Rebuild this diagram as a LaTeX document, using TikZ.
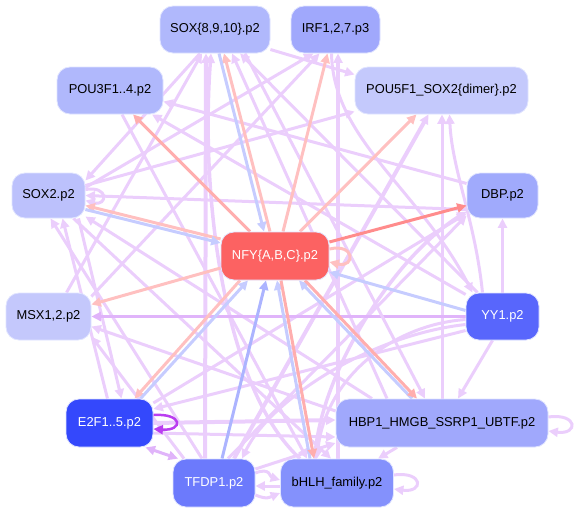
\documentclass[tikz,border=0pt]{standalone}
\usepackage{fontspec}
\setmainfont{Liberation Sans}
\usetikzlibrary{arrows.meta,backgrounds}
\definecolor{csox}{RGB}{176,184,252}
\definecolor{cirf}{RGB}{160,168,252}
\definecolor{cpoub}{RGB}{196,201,252}
\definecolor{csoxb}{RGB}{188,193,252}
\definecolor{cdbp}{RGB}{160,170,252}
\definecolor{cnfy}{RGB}{252,98,98}
\definecolor{cmsx}{RGB}{196,200,252}
\definecolor{cyy}{RGB}{88,102,252}
\definecolor{cetf}{RGB}{52,72,252}
\definecolor{chbp}{RGB}{160,168,252}
\definecolor{ctfdp}{RGB}{108,122,252}
\definecolor{cbhlh}{RGB}{132,145,252}
\definecolor{nbd}{RGB}{224,228,255}
\definecolor{pl}{RGB}{235,206,252}
\definecolor{pm}{RGB}{224,180,250}
\definecolor{pk}{RGB}{255,192,192}
\definecolor{rp}{RGB}{255,174,174}
\definecolor{rd}{RGB}{255,140,140}
\definecolor{bl}{RGB}{198,204,255}
\definecolor{bb}{RGB}{172,180,255}
\definecolor{dp}{RGB}{186,62,240}
\tikzset{
  nd/.style={draw=nbd, line width=0.8pt, rounded corners=13pt, inner sep=0pt,
    font=\fontsize{12.9}{15}\selectfont, text=black},
  wt/.style={text=white},
  e/.style={line width=3pt, draw=pl, -{Triangle[length=9.5pt,width=9pt]}},
  ee/.style={line width=3pt, draw=pl, {Triangle[length=9.5pt,width=9pt]}-{Triangle[length=9.5pt,width=9pt]}},
}
\begin{document}
\begin{tikzpicture}[x=1pt,y=-1pt]
\useasboundingbox (0,0) rectangle (578,512);
\node[nd,fill=csox,minimum width=110pt,minimum height=47pt] (sox8) at (215,29.5) {SOX\{8,9,10\}.p2};
\node[nd,fill=cirf,minimum width=89pt,minimum height=47pt] (irf) at (335.5,29.5) {IRF1,2,7.p3};
\node[nd,fill=csox,minimum width=106pt,minimum height=47pt] (pou3) at (110,90.5) {POU3F1..4.p2};
\node[nd,fill=cpoub,minimum width=173pt,minimum height=47pt] (pou5) at (441.5,90.5) {POU5F1\_SOX2\{dimer\}.p2};
\node[nd,fill=csoxb,minimum width=73pt,minimum height=45pt] (sox2) at (48.5,195.5) {SOX2.p2};
\node[nd,fill=cdbp,minimum width=71pt,minimum height=45pt] (dbp) at (502.5,195.5) {DBP.p2};
\node[nd,wt,fill=cnfy,minimum width=108pt,minimum height=48pt] (nfy) at (275,256) {NFY\{A,B,C\}.p2};
\node[nd,fill=cmsx,minimum width=85pt,minimum height=47pt] (msx) at (48.5,316.5) {MSX1,2.p2};
\node[nd,wt,fill=cyy,minimum width=73pt,minimum height=47pt] (yy1) at (502.5,316.5) {YY1.p2};
\node[nd,wt,fill=cetf,minimum width=87pt,minimum height=48pt] (e2f) at (109.5,423) {E2F1..5.p2};
\node[nd,fill=chbp,minimum width=212pt,minimum height=48pt] (hbp) at (442,423) {HBP1\_HMGB\_SSRP1\_UBTF.p2};
\node[nd,wt,fill=ctfdp,minimum width=82pt,minimum height=48pt] (tfdp) at (214,483) {TFDP1.p2};
\node[nd,fill=cbhlh,minimum width=113pt,minimum height=48pt] (bhlh) at (337,483) {bHLH\_family.p2};
\begin{pgfonlayer}{background}
% purple edges
\draw[e] ([xshift=-15pt]sox8.south) -- ([yshift=15pt]sox2.east);
\draw[e] ([yshift=-20pt]sox8.east) -- ([yshift=16pt]pou5.west);
\draw[e,line width=4pt] ([xshift=-9pt]tfdp.north) -- ([xshift=-9pt]sox8.south);
\draw[e] ([xshift=18pt]msx.north) -- ([xshift=-13pt]sox8.south);
\draw[e,line width=3.5pt] ([xshift=-37pt]bhlh.north) .. controls (225,390) and (200,200) .. ([xshift=-4pt]sox8.south);
\draw[e] ([xshift=-55pt]hbp.north) -- ([xshift=17pt]sox8.south);
\draw[e] ([xshift=-25pt]yy1.north) -- ([xshift=25pt]sox8.south);
\draw[e] ([yshift=8pt]sox2.east) -- ([xshift=-22pt]irf.south);
\draw[e] ([yshift=20pt]msx.east) -- ([xshift=-16pt]irf.south);
\draw[e,line width=3.5pt] ([xshift=1pt]bhlh.north) -- ([xshift=2.5pt]irf.south);
\draw[e] ([xshift=-4pt]irf.south) .. controls (333,140) and (420,190) .. ([xshift=-30pt]yy1.north);
\draw[e] ([yshift=12pt]dbp.west) -- ([yshift=-11pt]pou3.east);
\draw[e] ([yshift=22pt]yy1.west) -- ([xshift=42pt]pou3.south);
\draw[e] ([xshift=12pt]pou3.south) -- ([xshift=-30pt]bhlh.north);
\draw[e] ([yshift=10pt]sox2.east) -- ([yshift=-21pt]pou5.west);
\draw[e,line width=4pt] ([xshift=20pt]tfdp.north) -- ([xshift=-13pt]pou5.south);
\draw[e] (hbp.north) -- ([xshift=0.5pt]pou5.south);
\draw[e] ([xshift=-20pt]yy1.north) .. controls (475,220) and (452,170) .. ([xshift=8pt]pou5.south);
\draw[e] (yy1.north) -- (dbp.south);
\draw[e] ([yshift=20pt]e2f.east) -- ([yshift=-18pt]dbp.west);
\draw[e] ([xshift=14pt]tfdp.north) -- ([yshift=-20pt]dbp.west);
\draw[e,line width=3.5pt] ([xshift=-22pt]bhlh.north) .. controls (318,380) and (390,260) .. ([yshift=-16pt]dbp.west);
\draw[e] ([yshift=-14pt]dbp.west) -- (sox2.east);
\draw[e] ([yshift=6pt]sox2.east) .. controls +(24,-4) and +(22,6) .. ([yshift=-5pt]sox2.east);
\draw[e] ([xshift=-2pt]e2f.north) -- ([xshift=14pt]sox2.south);
\draw[e] ([xshift=-70pt]hbp.north) -- ([yshift=-21pt]sox2.east);
\draw[e] ([xshift=25pt]sox2.south) -- ([xshift=-6pt]bhlh.north);
\draw[e] ([xshift=-12pt]tfdp.north) -- ([xshift=2pt]sox2.south);
\draw[e] ([xshift=30pt]sox2.south) -- ([xshift=12pt]e2f.north);
\draw[e,pm] (yy1.west) -- (msx.east);
\draw[e] ([yshift=12pt]hbp.west) -- ([yshift=-10pt]msx.east);
\draw[e] ([xshift=-30pt]tfdp.north) -- ([yshift=-20pt]msx.east);
\draw[e,line width=4pt] (e2f.east) -- ([yshift=3pt]hbp.west);
\draw[e] ([yshift=-10pt]e2f.east) -- ([yshift=-14pt]hbp.west);
\draw[ee,pm] ([xshift=36pt]e2f.south) -- ([xshift=-36pt]tfdp.north);
\draw[e] ([yshift=-14pt]yy1.west) -- ([yshift=14pt]e2f.east);
\draw[e] ([yshift=14pt]tfdp.east) -- ([yshift=-20pt]hbp.west);
\draw[e] ([yshift=6pt]hbp.east) .. controls +(30,-4) and +(30,4) .. ([yshift=-8pt]hbp.east);
\draw[e] ([xshift=-45pt]hbp.south) -- ([xshift=41pt]bhlh.north);
\draw[e] ([xshift=-10pt]yy1.south) -- ([xshift=16pt]hbp.north);
\draw[e] ([xshift=30pt]sox8.south) -- ([xshift=-17pt]hbp.north);
\draw[e] ([yshift=10pt]tfdp.east) .. controls +(15,-6) and +(-10,-3) .. ([yshift=3pt]bhlh.west);
\draw[e] ([yshift=-3pt]bhlh.west) -- ([yshift=-3pt]tfdp.east);
\draw[e] ([yshift=-12pt]tfdp.east) .. controls +(12,5) and +(-10,4) .. ([yshift=-10pt]bhlh.west);
\draw[e] ([yshift=8pt]bhlh.east) .. controls +(30,-4) and +(30,4) .. ([yshift=-6pt]bhlh.east);
\draw[e] ([yshift=-3pt]yy1.west) .. controls (390,325) and (325,380) .. ([xshift=-20pt]bhlh.north);
\draw[e] ([yshift=-8pt]yy1.west) .. controls (370,335) and (270,400) .. ([xshift=28pt]tfdp.north);
\draw[e,dp,line width=2.5pt] ([yshift=8pt]e2f.east) .. controls +(30,-2) and +(30,2) .. ([yshift=-6pt]e2f.east);
% red / blue edges
\draw[e,rp] ([xshift=-25pt]nfy.north) -- ([xshift=23pt]pou3.south);
\draw[e,pk] ([xshift=-5pt]nfy.north) -- ([xshift=9pt]sox8.south);
\draw[e,bl] ([xshift=4pt]sox8.south) -- ([xshift=-11pt]nfy.north);
\draw[e,pk] ([xshift=8pt]nfy.north) -- ([xshift=-8pt]irf.south);
\draw[e,pk] ([xshift=25pt]nfy.north) -- ([xshift=-25pt]pou5.south);
\draw[e,rd] ([yshift=14pt]nfy.east) -- ([yshift=-10pt]dbp.west);
\draw[e,pk] ([yshift=7pt]nfy.east) .. controls +(26,-6) and +(26,6) .. ([yshift=-6pt]nfy.east);
\draw[e,pk] ([yshift=17pt]nfy.west) -- ([yshift=-10pt]sox2.east);
\draw[e,bl] ([yshift=-14pt]sox2.east) -- ([yshift=13pt]nfy.west);
\draw[e,pk] ([yshift=-12pt]nfy.west) -- ([yshift=12pt]msx.east);
\draw[e,pk] ([xshift=-35pt]nfy.south) -- ([xshift=25pt]e2f.north);
\draw[e,bl] ([xshift=31pt]e2f.north) -- ([xshift=-27pt]nfy.south);
\draw[e,bb] ([xshift=8pt]tfdp.north) -- ([xshift=-9pt]nfy.south);
\draw[e,bl] ([xshift=-27pt]bhlh.north) -- ([xshift=2pt]nfy.south);
\draw[e,rp] ([xshift=6pt]nfy.south) -- ([xshift=-23pt]bhlh.north);
\draw[e,bl] ([xshift=-30pt]hbp.north) -- ([xshift=24pt]nfy.south);
\draw[e,rp] ([xshift=30pt]nfy.south) -- ([xshift=-25pt]hbp.north);
\draw[e,bl] ([yshift=6pt]yy1.west) -- ([yshift=-16pt]nfy.east);
\end{pgfonlayer}
\end{tikzpicture}
\end{document}
